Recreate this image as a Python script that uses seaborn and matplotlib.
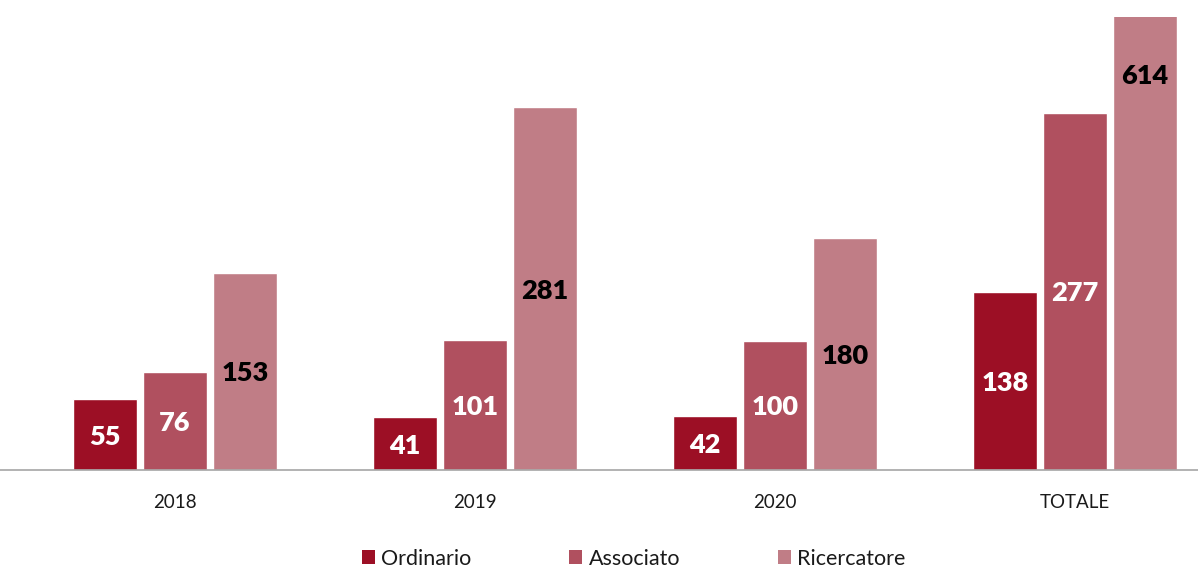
import matplotlib
matplotlib.use("Agg")
import matplotlib.pyplot as plt
import seaborn as sns
import pandas as pd
from matplotlib.patches import Patch

categories = ["2018", "2019", "2020", "TOTALE"]
series = ["Ordinario", "Associato", "Ricercatore"]
ordinario = [55, 41, 42, 138]
associato = [76, 101, 100, 277]
ricercatore = [153, 281, 180, 614]
colors = ["#9C0F25", "#B0505F", "#C07D86"]
label_colors = ["white", "white", "black"]

rows = []
for s, vals in zip(series, [ordinario, associato, ricercatore]):
    for c, v in zip(categories, vals):
        rows.append({"anno": c, "valore": v, "ruolo": s})
df = pd.DataFrame(rows)

sns.set_theme(style="white")
plt.rcParams["font.family"] = ["Lato", "DejaVu Sans"]

fig = plt.figure(figsize=(11.98, 5.72), dpi=100)
ax = fig.add_axes([0, 1 - 470 / 572, 1, (470 - 17) / 572])

sns.barplot(data=df, x="anno", y="valore", hue="ruolo", order=categories,
            hue_order=series, palette=colors, width=0.7, gap=0.086,
            saturation=1, ax=ax, legend=False)

ax.set_xlim(-175 / 300, (1198 - 175) / 300)
ax.set_ylim(0, 351)

for cont, lc in zip(ax.containers, label_colors):
    for bar in cont:
        h = bar.get_height()
        ax.text(bar.get_x() + bar.get_width() / 2, h / 2, f"{int(round(h))}",
                ha="center", va="center_baseline", color=lc, fontsize=19.5,
                fontweight="heavy")

for sp in ["left", "right", "top"]:
    ax.spines[sp].set_visible(False)
ax.spines["bottom"].set_color("#A6A6A6")
ax.spines["bottom"].set_linewidth(1.2)
ax.set_yticks([])
ax.set_xlabel("")
ax.set_ylabel("")
ax.tick_params(axis="x", length=0, pad=17, labelsize=13.5, labelcolor="#1a1a1a")

handles = [Patch(facecolor=c, edgecolor="none", label=s) for c, s in zip(colors, series)]
fig.legend(handles=handles, loc="lower center", bbox_to_anchor=(0.529, -0.028),
           ncol=3, frameon=False, fontsize=15.5, handlelength=0.6,
           handleheight=0.6, handletextpad=0.3, columnspacing=4.55,
           labelcolor="#1a1a1a")

fig.savefig("out.png", dpi=100)
